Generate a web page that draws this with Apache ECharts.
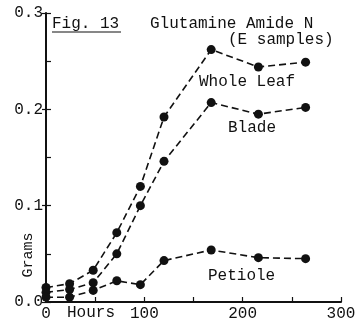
<!DOCTYPE html>
<html>
<head>
<meta charset="utf-8">
<script src="https://cdn.jsdelivr.net/npm/echarts@6/dist/echarts.min.js"></script>
<style>
html,body{margin:0;padding:0;background:#fff;}
#chart{width:362px;height:323px;}
</style>
</head>
<body>
<div id="chart"></div>
<script>
// sampling times (hours) and grams of glutamine amide N
var hours = [0, 24, 48, 72, 96, 120, 168, 216, 264];
var wholeLeaf = [0.015, 0.019, 0.033, 0.072, 0.120, 0.192, 0.262, 0.244, 0.249];
var blade = [0.010, 0.013, 0.020, 0.050, 0.100, 0.146, 0.207, 0.195, 0.202];
var petiole = [0.005, 0.005, 0.012, 0.022, 0.018, 0.043, 0.054, 0.046, 0.045];
var xTickLabels = ['0', '100', '200', '300'];
var yTickLabels = ['0.0', '0.1', '0.2', '0.3'];

var font = '"Liberation Mono", "DejaVu Sans Mono", monospace';
var ink = '#111';

function pairs(ys){
    var out = [];
    for(var i=0;i<hours.length;i++){
        out.push([hours[i], ys[i]]);
    }
    return out;
}

function makeSeries(name, ys){
    return {
        name: name,
        type: 'line',
        data: pairs(ys),
        symbol: 'circle',
        symbolSize: 9,
        itemStyle: {color: ink},
        lineStyle: {color: ink, width: 1.6, type: [7, 4]},
        animation: false
    };
}

var chart = echarts.init(document.getElementById('chart'));
var option = {
    backgroundColor: '#fff',
    animation: false,
    grid: {left: 46, right: 21, top: 13, bottom: 21, containLabel: false},
    xAxis: {
        type: 'value',
        min: 0, max: 300, interval: 50,
        axisLine: {lineStyle: {color: ink, width: 2}},
        axisTick: {inside: true, length: 5, lineStyle: {color: ink, width: 1.2}},
        splitLine: {show: false},
        axisLabel: {
            color: ink, fontFamily: font, fontSize: 16, margin: 4,
            formatter: function(v){
                return v % 100 === 0 ? xTickLabels[v/100] : '';
            }
        }
    },
    yAxis: [{
        type: 'value',
        min: 0, max: 0.3, interval: 0.1,
        axisLine: {show: true, lineStyle: {color: ink, width: 2}},
        axisTick: {show: true, inside: false, length: 4, lineStyle: {color: ink, width: 1.2}},
        splitLine: {show: false},
        axisLabel: {
            color: ink, fontFamily: font, fontSize: 16, margin: 3,
            formatter: function(v){
                return yTickLabels[Math.round(v*10)];
            }
        }
    }, {
        type: 'value',
        position: 'left',
        min: 0, max: 0.3, interval: 0.05,
        axisLine: {show: false},
        axisTick: {show: true, inside: true, length: 5, lineStyle: {color: ink, width: 1.2}},
        splitLine: {show: false},
        axisLabel: {show: false}
    }],
    series: [
        makeSeries('Whole Leaf', wholeLeaf),
        makeSeries('Blade', blade),
        makeSeries('Petiole', petiole)
    ],
    graphic: [
        {type: 'text', left: 52, top: 16, style: {text: 'Fig. 13', font: '16px ' + font, fill: ink}},
        {type: 'line', shape: {x1: 52, y1: 32, x2: 121, y2: 32}, style: {stroke: ink, lineWidth: 1.2}},
        {type: 'text', left: 150, top: 16, style: {text: 'Glutamine Amide N', font: '16px ' + font, fill: ink}},
        {type: 'text', left: 228, top: 32, style: {text: '(E samples)', font: '16px ' + font, fill: ink}},
        {type: 'text', left: 199, top: 74, style: {text: 'Whole Leaf', font: '16px ' + font, fill: ink}},
        {type: 'text', left: 228, top: 120, style: {text: 'Blade', font: '16px ' + font, fill: ink}},
        {type: 'text', left: 208, top: 268, style: {text: 'Petiole', font: '16px ' + font, fill: ink}},
        {type: 'text', left: 67, top: 305, style: {text: 'Hours', font: '16px ' + font, fill: ink}},
        {type: 'text', x: 28, y: 255, rotation: Math.PI/2, style: {text: 'Grams', font: '15px ' + font, fill: ink, align: 'center', verticalAlign: 'middle'}}
    ]
};
chart.setOption(option);
</script>
</body>
</html>
